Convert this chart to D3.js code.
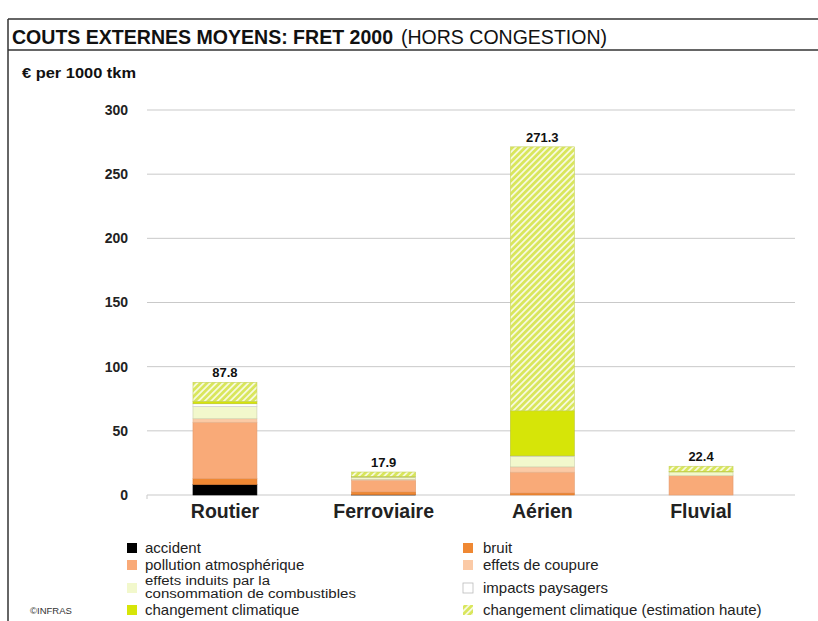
<!DOCTYPE html>
<html>
<head>
<meta charset="utf-8">
<script src="https://cdn.jsdelivr.net/npm/d3@7"></script>
<style>
  html, body { margin: 0; padding: 0; background: #fff; }
  svg { display: block; font-family: "Liberation Sans", Arial, sans-serif; }
</style>
</head>
<body>
<svg id="chart" width="818" height="621"></svg>
<script>
// Transport modes (freight, year 2000)
const categories = ["Routier", "Ferroviaire", "Aérien", "Fluvial"];
// Total external cost per mode, € per 1000 tkm
const totals = [87.8, 17.9, 271.3, 22.4];
const yTicks = [0, 50, 100, 150, 200, 250, 300];

// Cost components, stacked bottom to top
const seriesNames = [
  "accident",
  "bruit",
  "pollution atmosphérique",
  "effets de coupure",
  "effets induits par la consommation de combustibles",
  "impacts paysagers",
  "changement climatique",
  "changement climatique (estimation haute)"
];
const accident   = [8.1, 0.2, 0.0, 0.0];
const bruit      = [4.6, 2.2, 1.6, 0.0];
const pollution  = [44.0, 9.0, 16.2, 15.0];
const coupure    = [2.7, 0.8, 4.1, 0.0];
const induits    = [9.5, 1.5, 8.1, 3.0];
const paysagers  = [2.2, 0.3, 0.5, 0.0];
const climat     = [1.9, 0.5, 35.1, 0.5];
const climatHaut = [14.8, 3.4, 205.7, 3.9];
const seriesValues = [accident, bruit, pollution, coupure, induits, paysagers, climat, climatHaut];

const fills   = ["#000000", "#ef8833", "#f9aa78", "#fbcaa6", "#f2f8cc", "#ffffff", "#d6e508", "url(#hatch)"];
const strokes = ["#000000", "#d9762a", "#e39b6c", "#e6b896", "#c9cfaa", "#c8c8c8", "#b9c62a", "#c6d25a"];

const svg = d3.select("#chart");

// Diagonal hatch for the high climate-change estimate
const defs = svg.append("defs");
const pat = defs.append("pattern")
  .attr("id", "hatch")
  .attr("patternUnits", "userSpaceOnUse")
  .attr("width", 4.5).attr("height", 4.5)
  .attr("patternTransform", "rotate(45)");
pat.append("rect").attr("width", 4.5).attr("height", 4.5).attr("fill", "#d9e65c");
pat.append("rect").attr("x", 0).attr("width", 1.8).attr("height", 4.5).attr("fill", "#f6f9dc");

// Frame and title
svg.append("line").attr("x1", 8).attr("x2", 818).attr("y1", 19).attr("y2", 19)
  .attr("stroke", "#333").attr("stroke-width", 1.5);
svg.append("line").attr("x1", 8).attr("x2", 8).attr("y1", 19).attr("y2", 621)
  .attr("stroke", "#333").attr("stroke-width", 1.5);
svg.append("line").attr("x1", 8).attr("x2", 818).attr("y1", 50).attr("y2", 50)
  .attr("stroke", "#333").attr("stroke-width", 1.5);

svg.append("text")
  .attr("x", 12).attr("y", 44)
  .attr("font-size", 21).attr("font-weight", "bold")
  .attr("fill", "#111")
  .attr("textLength", 381)
  .attr("lengthAdjust", "spacingAndGlyphs")
  .text("COUTS EXTERNES MOYENS: FRET 2000");
svg.append("text")
  .attr("x", 401).attr("y", 44)
  .attr("font-size", 21)
  .attr("fill", "#111")
  .attr("textLength", 206)
  .attr("lengthAdjust", "spacingAndGlyphs")
  .text("(HORS CONGESTION)");

svg.append("text")
  .attr("x", 22).attr("y", 78)
  .attr("font-size", 15.5).attr("font-weight", "bold")
  .attr("fill", "#111")
  .attr("textLength", 114)
  .attr("lengthAdjust", "spacingAndGlyphs")
  .text("€ per 1000 tkm");

// Scales
const x = d3.scaleBand().domain(categories).range([146, 780])
  .paddingInner(0.597).paddingOuter(0.296);
const y = d3.scaleLinear().domain([0, 300]).range([495, 110]);

// Gridlines
const grid = svg.append("g").attr("class", "grid");
grid.selectAll("line").data(yTicks).join("line")
  .attr("x1", 147).attr("x2", 795)
  .attr("y1", d => y(d)).attr("y2", d => y(d))
  .attr("stroke", "#c9c9c9").attr("stroke-width", 1);
svg.append("line").attr("x1", 147).attr("x2", 147).attr("y1", y(0)).attr("y2", y(0) + 4)
  .attr("stroke", "#c9c9c9");

// Y axis labels
const yAxis = svg.append("g")
  .attr("transform", "translate(147,0)")
  .call(d3.axisLeft(y).tickValues(yTicks).tickSize(0).tickPadding(19).tickFormat(d3.format("d")));
yAxis.select(".domain").remove();
yAxis.selectAll("text")
  .attr("font-size", 14).attr("font-weight", "bold").attr("fill", "#222")
  .attr("font-family", "Liberation Sans, Arial, sans-serif");

// Stacked bars
const rows = categories.map((c, i) => {
  const r = { cat: c };
  seriesNames.forEach((s, j) => { r[s] = seriesValues[j][i]; });
  return r;
});
const stack = d3.stack().keys(seriesNames)(rows);

svg.append("g").selectAll("g").data(stack).join("g")
  .attr("fill", (d, i) => fills[i])
  .attr("stroke", (d, i) => strokes[i])
  .attr("stroke-width", 0.6)
  .selectAll("rect").data(d => d.filter(p => p[1] - p[0] > 0)).join("rect")
    .attr("x", d => x(d.data.cat))
    .attr("width", x.bandwidth())
    .attr("y", d => y(d[1]))
    .attr("height", d => y(d[0]) - y(d[1]));

// Totals above bars
svg.append("g").selectAll("text").data(categories).join("text")
  .attr("x", d => x(d) + x.bandwidth() / 2)
  .attr("y", (d, i) => y(totals[i]) - 5)
  .attr("text-anchor", "middle")
  .attr("font-size", 13).attr("font-weight", "bold").attr("fill", "#111")
  .text((d, i) => totals[i].toFixed(1));

// Category labels
const xAxis = svg.append("g")
  .attr("transform", `translate(0,${y(0)})`)
  .call(d3.axisBottom(x).tickSize(0).tickPadding(9));
xAxis.select(".domain").remove();
xAxis.selectAll("text")
  .attr("font-size", 19.5).attr("font-weight", "bold").attr("fill", "#222")
  .attr("font-family", "Liberation Sans, Arial, sans-serif");

// Legend: two columns
const legendRowsY = [548, 565, 588, 610];
const legend = svg.append("g").selectAll("g").data(seriesNames).join("g")
  .attr("transform", (d, i) => `translate(${i % 2 === 0 ? 127 : 463},${legendRowsY[Math.floor(i / 2)]})`);
legend.append("rect")
  .attr("x", 0).attr("y", -5).attr("width", 10).attr("height", 10)
  .attr("fill", (d, i) => fills[i])
  .attr("stroke", (d, i) => i === 5 ? "#bbb" : "none")
  .attr("stroke-width", 0.8);
legend.each(function(d, i) {
  const g = d3.select(this);
  const tx = i % 2 === 0 ? 18 : 20;
  if (d.startsWith("effets induits")) {
    // long label wrapped on two tight lines
    g.append("text").attr("x", tx).attr("y", -3.5)
      .attr("font-size", 12).attr("fill", "#222")
      .attr("textLength", 125).attr("lengthAdjust", "spacingAndGlyphs")
      .text("effets induits par la");
    g.append("text").attr("x", tx).attr("y", 10)
      .attr("font-size", 12).attr("fill", "#222")
      .attr("textLength", 211).attr("lengthAdjust", "spacingAndGlyphs")
      .text("consommation de combustibles");
  } else {
    g.append("text").attr("x", tx).attr("y", 5)
      .attr("font-size", 15).attr("fill", "#222").text(d);
  }
});

svg.append("text")
  .attr("x", 30).attr("y", 614)
  .attr("font-size", 9.5).attr("fill", "#333")
  .text("©INFRAS");
</script>
</body>
</html>
